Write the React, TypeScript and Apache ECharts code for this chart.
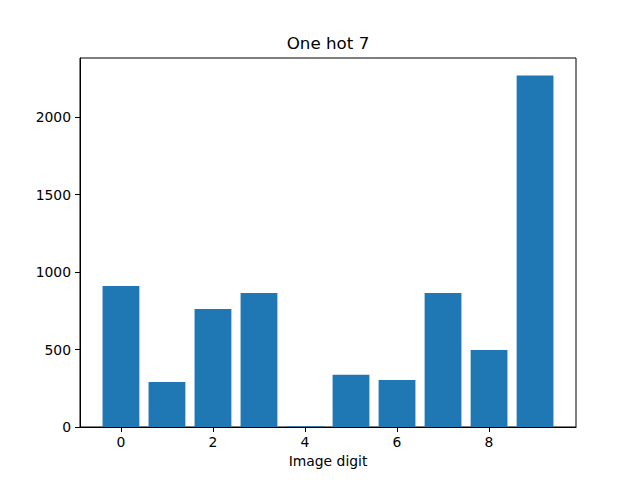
import React, { useEffect, useRef } from "react";
import * as echarts from "echarts";

const digits = [0, 1, 2, 3, 4, 5, 6, 7, 8, 9];
const counts = [910, 291, 762, 865, 5, 337, 304, 865, 498, 2270];
const xTicks = [0, 2, 4, 6, 8];
const yTicks = [0, 500, 1000, 1500, 2000];
const titleText = "One hot 7";
const xLabel = "Image digit";

const FONT = "DejaVu Sans";

export default function App() {
  const ref = useRef<HTMLDivElement>(null);
  useEffect(() => {
    if (!ref.current) return;
    const chart = echarts.init(ref.current, null, { renderer: "svg" });
    const data = digits.map((d, i) => [d, counts[i]]);
    chart.setOption({
      animation: false,
      backgroundColor: "#ffffff",
      title: {
        text: titleText,
        left: 323,
        textAlign: "center",
        top: 29,
        textStyle: { fontFamily: FONT, fontSize: 16.7, fontWeight: "normal", color: "#000" },
      },
      grid: {
        left: 80,
        right: 64,
        top: 58,
        bottom: 53,
        show: true,
        borderColor: "#000",
        borderWidth: 1,
        backgroundColor: "transparent",
      },
      xAxis: {
        type: "value",
        min: -0.89,
        max: 9.89,
        name: xLabel,
        nameLocation: "middle",
        nameGap: 27,
        nameTextStyle: { fontFamily: FONT, fontSize: 13.9, color: "#000" },
        splitLine: { show: false },
        axisLine: { show: true, onZero: false, lineStyle: { color: "#000", width: 1 } },
        axisTick: { show: true, inside: false, length: 5, lineStyle: { color: "#000" }, customValues: xTicks },
        axisLabel: {
          show: true, margin: 8, fontFamily: FONT, fontSize: 13.9, color: "#000", customValues: xTicks,
          formatter: (v: number) => String(v),
        },
      },
      yAxis: {
        type: "value",
        min: 0,
        max: 2383,
        splitLine: { show: false },
        axisLine: { show: true, onZero: false, lineStyle: { color: "#000", width: 1 } },
        axisTick: { show: true, inside: false, length: 5, lineStyle: { color: "#000" }, customValues: yTicks },
        axisLabel: {
          show: true, margin: 9, fontFamily: FONT, fontSize: 13.9, color: "#000", customValues: yTicks,
          formatter: (v: number) => String(v),
        },
      },
      series: [
        {
          type: "custom",
          data,
          renderItem: (params: any, api: any) => {
            const x = api.value(0);
            const v = api.value(1);
            const p0 = api.coord([x - 0.4, v]);
            const p1 = api.coord([x + 0.4, 0]);
            return {
              type: "rect",
              shape: { x: p0[0], y: p0[1], width: p1[0] - p0[0], height: p1[1] - p0[1] },
              style: { fill: "#1f77b4" },
            };
          },
          encode: { x: 0, y: 1 },
        },
      ],
    });
    return () => chart.dispose();
  }, []);
  return (
    <div
      ref={ref}
      style={{ position: "fixed", left: 0, top: 0, width: 640, height: 480 }}
    />
  );
}
